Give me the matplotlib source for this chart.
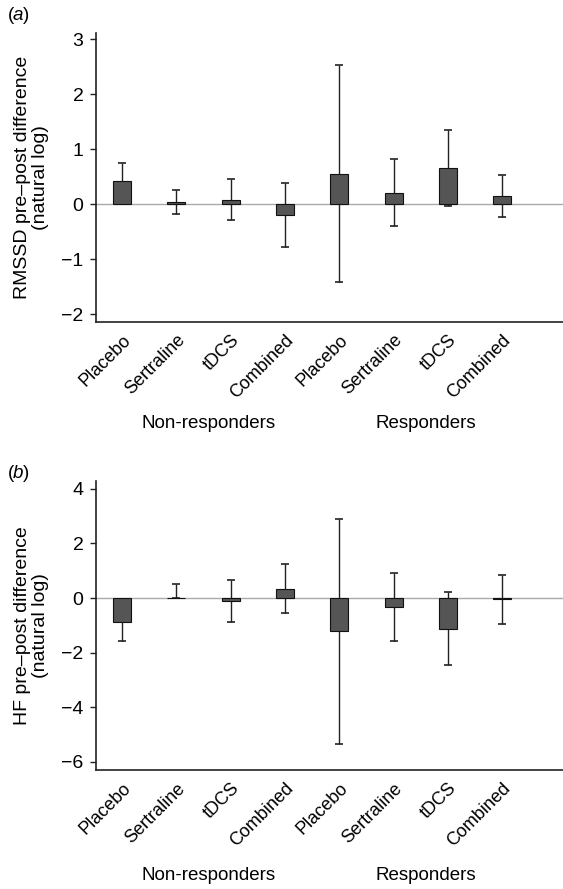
import matplotlib
matplotlib.use("Agg")
import matplotlib.pyplot as plt
import numpy as np

plt.rcParams["font.family"] = ["Liberation Sans", "DejaVu Sans"]

groups = ["Placebo", "Sertraline", "tDCS", "Combined"] * 2
outcomes = ["Non-responders", "Responders"]

# panel (a): RMSSD
rmssd = [0.42, 0.04, 0.08, -0.20, 0.55, 0.205, 0.655, 0.15]
rmssd_err = [0.33, 0.22, 0.37, 0.58, 1.97, 0.61, 0.685, 0.38]
# panel (b): HF
hf = [-0.88, 0.02, -0.10, 0.35, -1.22, -0.315, -1.12, -0.05]
hf_err_lo = [0.71, 0.0, 0.77, 0.91, 4.13, 1.245, 1.34, 0.90]
hf_err_hi = [0.71, 0.49, 0.77, 0.91, 4.13, 1.245, 1.34, 0.90]

BAR = "#555555"
W, H = 563, 889
fig = plt.figure(figsize=(W / 100, H / 100), dpi=100)


def panel(rect, vals, err, ylim, yticks, ylabel, tag, tag_y, grp_y):
    ax = fig.add_axes(rect)
    x = np.arange(len(vals))
    ax.axhline(0, color="#aaaaaa", lw=1, zorder=1)
    ax.errorbar(x, vals, yerr=err, fmt="none", ecolor="#222222", elinewidth=1,
                capsize=2.6, capthick=1.2, zorder=2)
    ax.bar(x, vals, width=0.33, color=BAR, edgecolor="#111111", linewidth=0.8, zorder=3)
    ax.set_xlim(-0.48, 8.12)
    ax.set_ylim(*ylim)
    ax.set_yticks(yticks)
    ax.set_yticklabels([str(t).replace("-", "\u2212") for t in yticks], fontsize=14)
    ax.set_xticks(x)
    ax.set_xticklabels(groups, rotation=45, ha="right", rotation_mode="anchor", fontsize=13)
    ax.tick_params(axis="x", length=0, pad=7)
    ax.tick_params(axis="y", length=4, width=1, color="#222222", pad=5)
    for s in ["top", "right"]:
        ax.spines[s].set_visible(False)
    for s in ["left", "bottom"]:
        ax.spines[s].set_color("#222222")
        ax.spines[s].set_linewidth(1.2)
    ax.set_ylabel(ylabel, fontsize=14, linespacing=1.05, labelpad=9)
    fig.text(8 / W, 1 - tag_y / H, "(", fontsize=13.5, va="center")
    fig.text(13 / W, 1 - tag_y / H, tag, fontsize=13.5, va="center", style="italic")
    fig.text(22.5 / W, 1 - tag_y / H, ")", fontsize=13.5, va="center")
    for i, name in enumerate(outcomes):
        xc = ax.transData.transform((1.5 + 4 * i + 0.1, 0))[0] / fig.dpi / fig.get_figwidth()
        fig.text(xc, 1 - grp_y / H, name, fontsize=13.5, ha="center", va="center")
    return ax


panel([96 / W, 1 - 321.7 / H, 467 / W, 288.7 / H], rmssd, rmssd_err, (-2.14, 3.11),
      [-2, -1, 0, 1, 2, 3], "RMSSD pre\u2013post difference\n(natural log)", "a", 15, 424)
panel([96 / W, 1 - 770 / H, 467 / W, 289.3 / H], hf, [hf_err_lo, hf_err_hi], (-6.3, 4.3),
      [-6, -4, -2, 0, 2, 4], "HF pre\u2013post difference\n(natural log)", "b", 473, 876)

fig.savefig("out.png", dpi=100)
